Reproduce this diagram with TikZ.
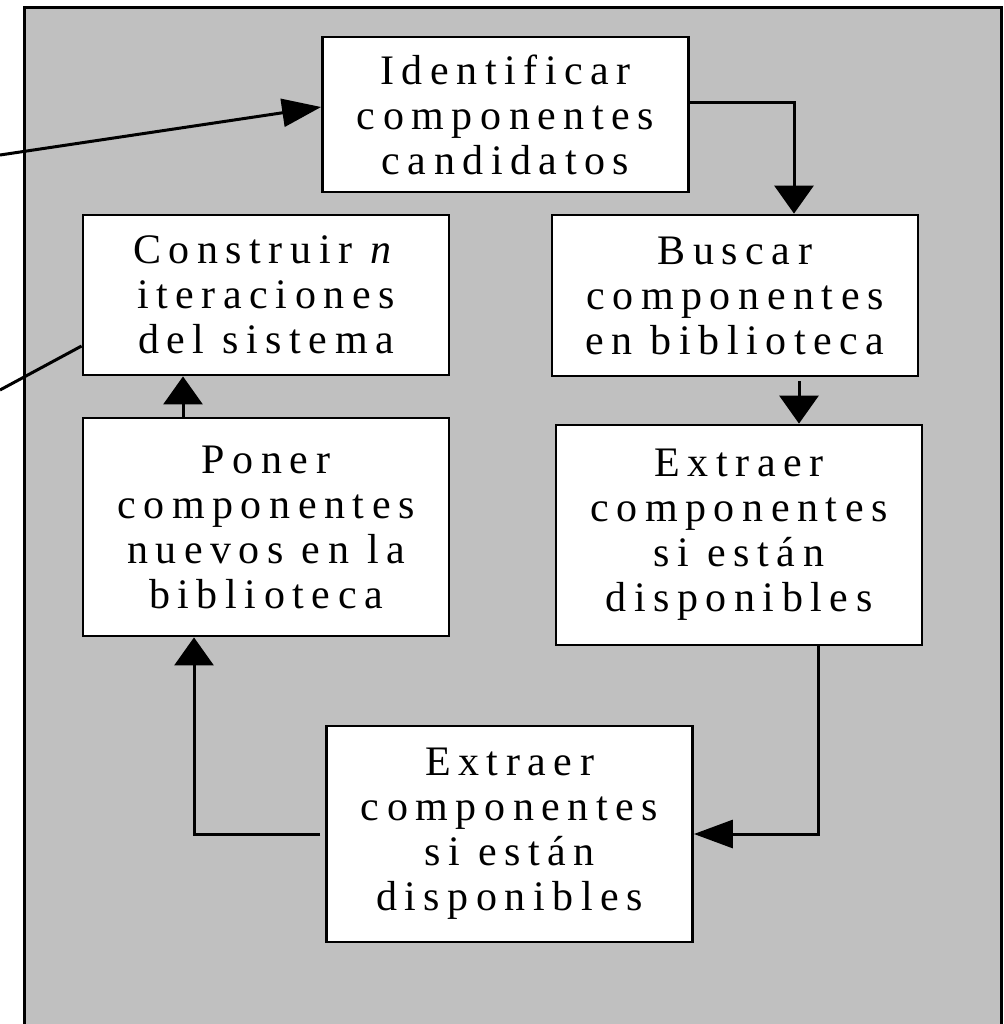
\documentclass[tikz,border=0pt]{standalone}
\usepackage{fontspec}
\setmainfont[LetterSpace=18]{Liberation Serif}
\usetikzlibrary{arrows.meta}
\definecolor{fondo}{HTML}{C0C0C0}
\tikzset{
  caja/.style={draw,fill=white,line width=1.4pt,align=center,inner sep=0pt,
    minimum width=183pt,font=\fontsize{21}{22.5}\selectfont},
  vtip/.style={-{Triangle[length=14pt,width=19.5pt]}},
  htip/.style={-{Triangle[length=19.5pt,width=14pt]}},
}
\begin{document}
\begin{tikzpicture}[x=0.5pt,y=-0.5pt,line width=1.5pt]
\clip (0,0) rectangle (1003,1024);
\draw[fill=fondo] (24,7) rectangle (1001,1040);
\path
(505.5,114.5) node[caja,minimum height=77.5pt] (ident) {Identificar\\componentes\\candidatos}
(266,295)     node[caja,minimum height=80pt]   (constr) {Construir \textit{n}\\iteraciones\\del sistema}
(266,527)     node[caja,minimum height=109pt]  (poner) {Poner\\componentes\\nuevos en la\\biblioteca}
(735,295.5)   node[caja,minimum height=80.5pt] (buscar) {Buscar\\componentes\\en biblioteca}
(739,535)     node[caja,minimum height=110pt]  (extr1) {Extraer\\componentes\\si están\\disponibles}
(509.5,834)   node[caja,minimum height=108pt]  (extr2) {Extraer\\componentes\\si están\\disponibles};
\coordinate (in1) at (0,155);
\coordinate (in2) at (0,390);

\draw[htip] (in1) -- ([yshift=3.75pt]ident.west);
\draw (in2) -- ([yshift=-25.5pt]constr.west);
\draw[vtip] ([yshift=6.25pt]ident.east) -| ([xshift=29.5pt]buscar.north);
\draw[vtip] ([xshift=32pt,yshift=-2pt]buscar.south) -- ([xshift=30pt]extr1.north);
\draw[htip] ([xshift=39.5pt]extr1.south) |- (extr2.east);
\draw[vtip] ([xshift=-2.5pt]extr2.west) -| ([xshift=-36pt]poner.south);
\draw[vtip] ([xshift=-41.5pt]poner.north) -- ([xshift=-41.5pt]constr.south);
\end{tikzpicture}
\end{document}
